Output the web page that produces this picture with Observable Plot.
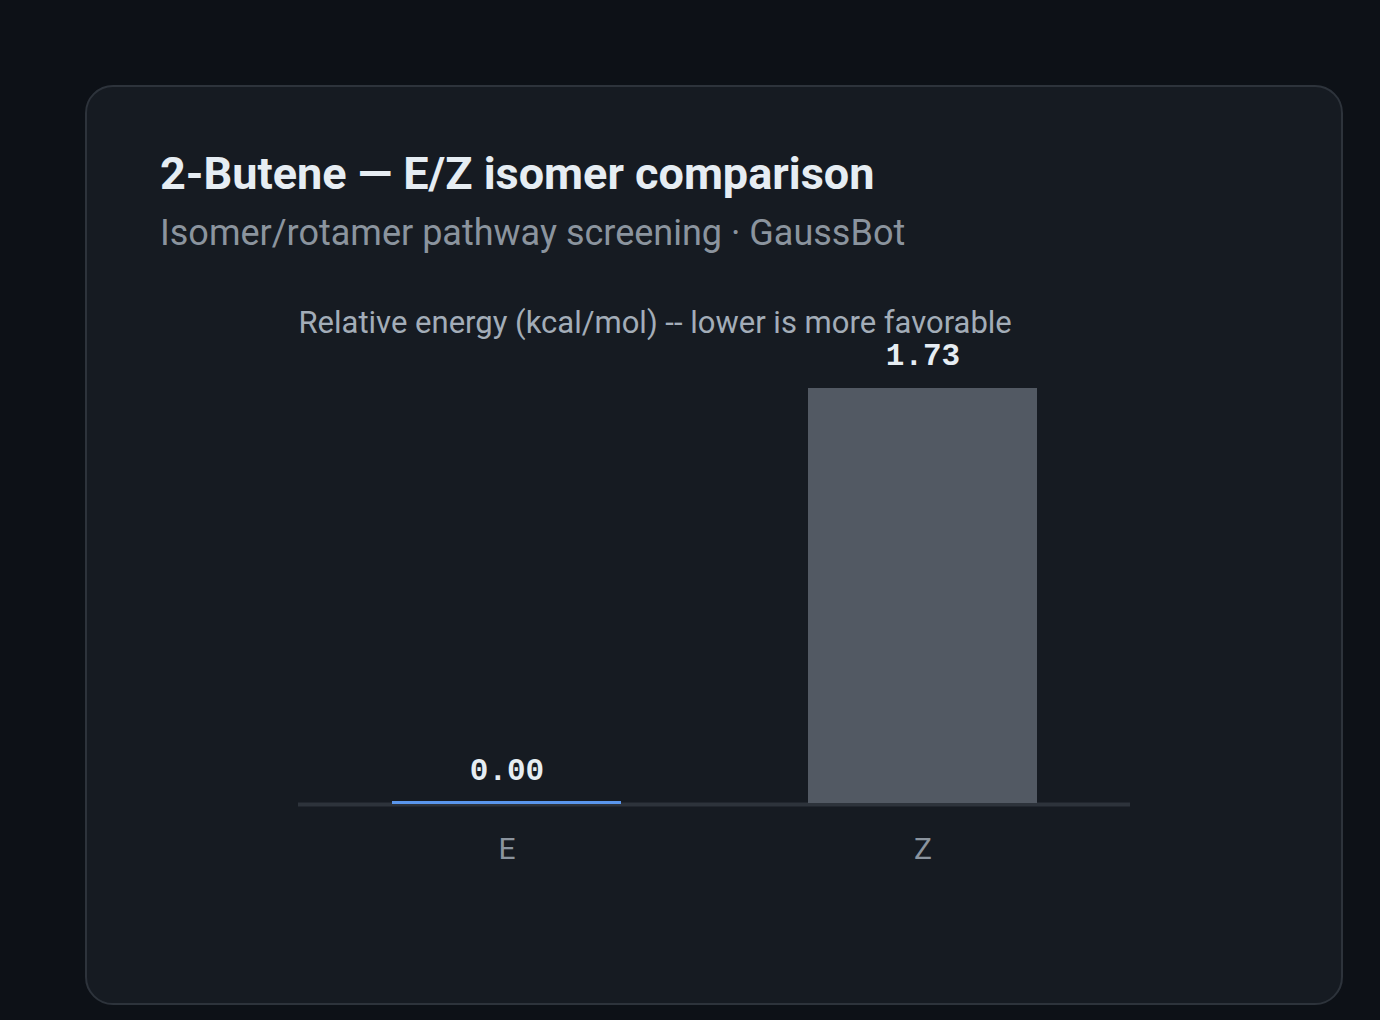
<!DOCTYPE html>
<html>
<head>
<meta charset="utf-8">
<script src="https://cdn.jsdelivr.net/npm/d3@7"></script>
<script src="https://cdn.jsdelivr.net/npm/@observablehq/plot@0.6"></script>
<style>
  html, body { margin: 0; padding: 0; background: #0d1117; }
  body { width: 1380px; height: 1020px; position: relative; overflow: hidden; font-family: Roboto, "Noto Sans", sans-serif; }
  .card { position: absolute; left: 85px; top: 85px; width: 1258px; height: 920px; box-sizing: border-box;
          background: #161b22; border: 2px solid #2d333b; border-radius: 28px; }
  .title { position: absolute; left: 160px; top: 151px; font-size: 45px; line-height: 1; font-weight: 700; color: #e6edf3; white-space: nowrap; }
  .subtitle { position: absolute; left: 160px; top: 215px; font-size: 36px; line-height: 1; color: #8b949e; white-space: nowrap; }
  #chart { position: absolute; left: 160px; top: 290px; }
</style>
</head>
<body>
<div class="card"></div>
<div class="title">2-Butene — E/Z isomer comparison</div>
<div class="subtitle">Isomer/rotamer pathway screening · GaussBot</div>
<div id="chart"></div>
<script>
const isomers = ["E", "Z"];
const energies = [0.00, 1.73];
const yLabel = "Relative energy (kcal/mol) -- lower is more favorable";

const data = isomers.map((iso, i) => ({isomer: iso, energy: energies[i]}));
const minE = d3.min(energies);
const best = data.filter(d => d.energy === minE);

const chart = Plot.plot({
  width: 1110,
  height: 593,
  marginLeft: 138,
  marginRight: 140,
  marginTop: 98,
  marginBottom: 80,
  style: {background: "transparent", color: "#8b949e", fontFamily: "Roboto, sans-serif", fontSize: "30px"},
  x: {domain: isomers, paddingInner: 0.45, paddingOuter: 0.225, label: null},
  y: {domain: [0, d3.max(energies)], axis: null},
  marks: [
    Plot.ruleY([0], {stroke: "#2d333b", strokeWidth: 4, dy: 1}),
    Plot.barY(data, {x: "isomer", y: "energy", fill: d => d.energy === minE ? "#5a96ec" : "#525963"}),
    Plot.tickY(best, {x: "isomer", y: "energy", stroke: "#5a96ec", strokeWidth: 3, dy: -1}),
    Plot.axisX({tickSize: 0, tickPadding: 34, fontSize: 30, fill: "#8b949e", label: null}),
    Plot.text(data, {x: "isomer", y: "energy", text: d => d.energy.toFixed(2), lineAnchor: "bottom", dy: -24,
      fontFamily: "'Liberation Mono', monospace", fontWeight: "bold", fontSize: 31, fill: "#e6edf3"}),
    Plot.text([yLabel], {frameAnchor: "top-left", textAnchor: "start", lineAnchor: "bottom", dy: -56,
      fontSize: 31, fill: "#a3adb8"})
  ]
});
document.getElementById("chart").appendChild(chart);
</script>
</body>
</html>
